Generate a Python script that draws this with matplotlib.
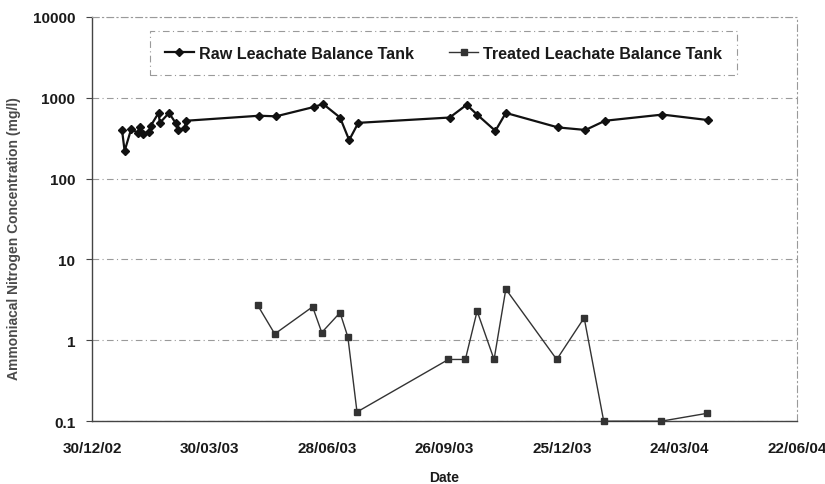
import matplotlib
matplotlib.use("Agg")
import matplotlib.pyplot as plt
import matplotlib.dates as mdates
import matplotlib.ticker as mticker
import pandas as pd
from matplotlib import font_manager

# ---- data ----
raw_dates = [
    "2003-01-22", "2003-01-24", "2003-01-29", "2003-02-03", "2003-02-05",
    "2003-02-07", "2003-02-12", "2003-02-13", "2003-02-19", "2003-02-20",
    "2003-02-27", "2003-03-04", "2003-03-06", "2003-03-11", "2003-03-12",
    "2003-05-07", "2003-05-20", "2003-06-18", "2003-06-25", "2003-07-08",
    "2003-07-15", "2003-07-22", "2003-09-30", "2003-10-13", "2003-10-21",
    "2003-11-04", "2003-11-12", "2003-12-22", "2004-01-12", "2004-01-27",
    "2004-03-11", "2004-04-15",
]
raw_values = [
    400, 220, 410, 370, 440,
    360, 380, 450, 650, 490,
    650, 490, 400, 420, 520,
    600, 590, 770, 840, 570,
    300, 490, 570, 820, 620,
    390, 650, 430, 400, 520,
    620, 530,
]

treated_dates = [
    "2003-05-06", "2003-05-19", "2003-06-17", "2003-06-24", "2003-07-08",
    "2003-07-14", "2003-07-21", "2003-09-29", "2003-10-12", "2003-10-21",
    "2003-11-03", "2003-11-12", "2003-12-21", "2004-01-11", "2004-01-26",
    "2004-03-10", "2004-04-14",
]
treated_values = [
    2.7, 1.2, 2.6, 1.25, 2.2,
    1.1, 0.13, 0.58, 0.58, 2.3,
    0.58, 4.3, 0.58, 1.9, 0.1,
    0.1, 0.125,
]

raw_label = "Raw Leachate Balance Tank"
treated_label = "Treated Leachate Balance Tank"
x_start, x_end = "2002-12-30", "2004-06-22"
y_ticks = [0.1, 1, 10, 100, 1000, 10000]

# ---- fonts ----
installed = {f.name for f in font_manager.fontManager.ttflist}
narrow = "Liberation Sans Narrow" if "Liberation Sans Narrow" in installed else "Liberation Sans"
plt.rcParams["font.family"] = [narrow, "DejaVu Sans"]
text_col = "#1a1a1a"

fig = plt.figure(figsize=(8.25, 4.85), dpi=100)
ax = fig.add_axes([0.1115, 0.1295, 0.8545, 0.8335])

ax.plot(pd.to_datetime(raw_dates), raw_values, color="#111111", linewidth=1.6,
        marker="D", markersize=4.5, label=raw_label, clip_on=False, zorder=3)
ax.plot(pd.to_datetime(treated_dates), treated_values, color="#333333", linewidth=1.0,
        marker="s", markersize=5, markerfacecolor="#333333", label=treated_label,
        clip_on=False, zorder=3)

ax.set_yscale("log")
ax.set_ylim(0.1, 10000)
ax.yaxis.set_major_locator(mticker.FixedLocator(y_ticks))
ax.yaxis.set_major_formatter(mticker.FuncFormatter(lambda v, _: f"{v:g}"))
ax.yaxis.set_minor_locator(mticker.NullLocator())

ax.set_xlim(pd.Timestamp(x_start), pd.Timestamp(x_end))
ax.xaxis.set_major_locator(mticker.FixedLocator(
    mdates.date2num(pd.date_range(x_start, x_end, freq="90D"))))
ax.xaxis.set_major_formatter(mdates.DateFormatter("%d/%m/%y"))
ax.xaxis.set_minor_locator(mticker.NullLocator())

ax.grid(axis="y", which="major", color="#9a9a9a", linestyle=(0, (6, 3, 1, 3)), linewidth=0.8)
for side in ("top", "right"):
    ax.spines[side].set_color("#9a9a9a")
    ax.spines[side].set_linestyle((0, (6, 3, 1, 3)))
    ax.spines[side].set_linewidth(0.8)
for side in ("left", "bottom"):
    ax.spines[side].set_color("#444444")
    ax.spines[side].set_linewidth(1.0)

ax.tick_params(axis="y", length=4, width=0.8, color="#444444", pad=8,
               labelsize=11, labelcolor=text_col)
ax.tick_params(axis="x", length=0, pad=14, labelsize=11, labelcolor=text_col)
for lbl in ax.get_xticklabels() + ax.get_yticklabels():
    lbl.set_fontweight("bold")

ax.set_ylabel("Ammoniacal Nitrogen Concentration (mg/l)", fontsize=10, fontweight="bold",
              color="#4a4a4a", family=["Liberation Sans", "DejaVu Sans"])
ax.yaxis.set_label_coords(-0.1, 0.455)
ax.set_xlabel("Date", fontsize=10, fontweight="bold", color=text_col, labelpad=11,
              family=["Liberation Sans", "DejaVu Sans"])

leg = ax.legend(loc="upper center", bbox_to_anchor=(0.4986, 0.964), ncol=2,
                handlelength=1.8, handletextpad=0.3, columnspacing=2.2,
                borderpad=0.9, borderaxespad=0, fancybox=False, framealpha=1,
                prop={"weight": "bold", "size": 11.6})
leg.get_frame().set_edgecolor("#9a9a9a")
leg.get_frame().set_linestyle((0, (6, 3, 1, 3)))
leg.get_frame().set_linewidth(0.8)
for t in leg.get_texts():
    t.set_color(text_col)

fig.savefig("out.png", dpi=100)
